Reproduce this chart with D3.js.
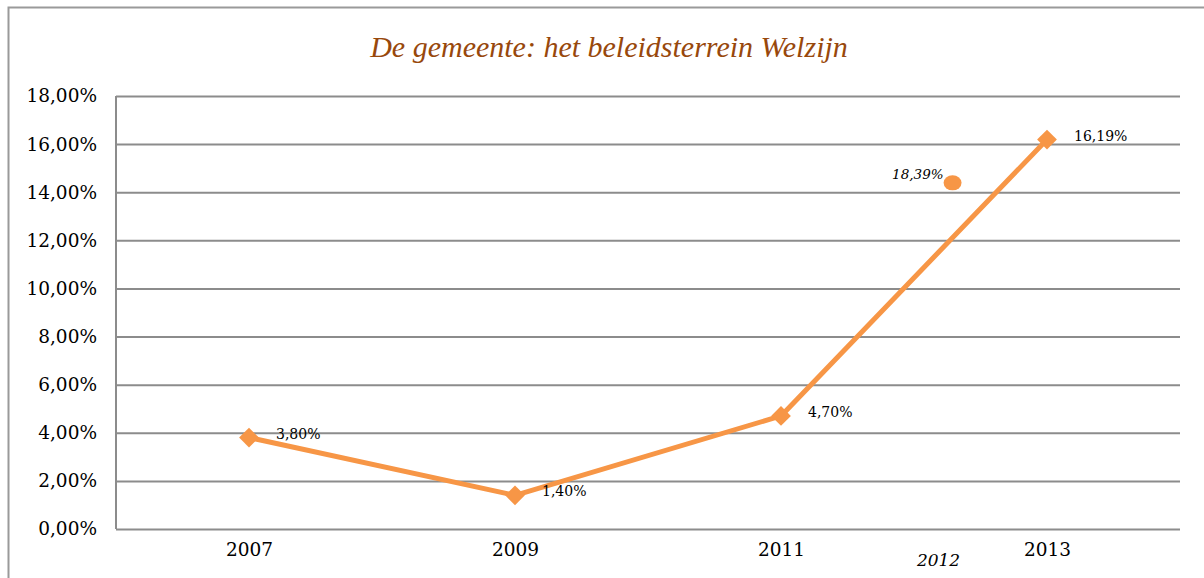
<!DOCTYPE html>
<html>
<head>
<meta charset="utf-8">
<script src="https://cdn.jsdelivr.net/npm/d3@7"></script>
<style>
  html, body { margin: 0; padding: 0; background: #fff; }
  svg { display: block; }
</style>
</head>
<body>
<svg id="chart" width="1204" height="578"></svg>
<script>
// ---- data ----
const title = "De gemeente: het beleidsterrein Welzijn";
const years = ["2007", "2009", "2011", "2013"];
const values = [3.80, 1.40, 4.70, 16.19];
const valueLabels = ["3,80%", "1,40%", "4,70%", "16,19%"];
const yTicks = [0, 2, 4, 6, 8, 10, 12, 14, 16, 18];
// extra annotated point (placed between 2011 and 2013)
const extraYear = "2012";
const extraPosition = 2.645;   // position on the category index axis
const extraValue = 14.39;
const extraLabel = "18,39%";

// ---- layout ----
const W = 1204, H = 578;
const plot = { left: 116, right: 1180, top: 96, bottom: 529 };
const orange = "#F79646";
const gridColor = "#8c8c8c";
const serif = "'DejaVu Serif', serif";

const svg = d3.select("#chart");

// outer border
svg.append("rect")
  .attr("x", 8.5).attr("y", 7.5)
  .attr("width", W + 20).attr("height", H + 20)
  .attr("fill", "none").attr("stroke", "#9a9a9a").attr("stroke-width", 2);

// title
svg.append("text")
  .attr("x", 609).attr("y", 57)
  .attr("text-anchor", "middle")
  .attr("font-family", "'Liberation Serif', serif")
  .attr("font-style", "italic")
  .attr("font-size", 30)
  .attr("fill", "#98480C")
  .text(title);

// scales
const x = d3.scalePoint().domain(years).range([plot.left, plot.right]).padding(0.5);
const xIdx = d3.scaleLinear().domain([0, years.length - 1]).range([x(years[0]), x(years[years.length - 1])]);
const y = d3.scaleLinear().domain([0, 18]).range([plot.bottom, plot.top]);

// gridlines
const yAxis = d3.axisLeft(y).tickValues(yTicks)
  .tickSize(-(plot.right - plot.left))
  .tickPadding(19)
  .tickFormat(d => d3.format(".2f")(d).replace(".", ",") + "%");
const gy = svg.append("g").attr("transform", `translate(${plot.left},0)`).call(yAxis);
gy.select(".domain").remove();
gy.selectAll(".tick line").attr("stroke", gridColor).attr("stroke-width", 2);
gy.selectAll(".tick text")
  .attr("font-family", serif).attr("font-size", 18.5).attr("fill", "#000");

// vertical axis line
svg.append("line")
  .attr("x1", plot.left).attr("x2", plot.left)
  .attr("y1", y(18)).attr("y2", y(0))
  .attr("stroke", gridColor).attr("stroke-width", 2);

// x axis labels
const xAxis = d3.axisBottom(x).tickSize(0).tickPadding(14);
const gx = svg.append("g").attr("transform", `translate(0,${plot.bottom})`).call(xAxis);
gx.select(".domain").remove();
gx.selectAll(".tick text")
  .attr("font-family", serif).attr("font-size", 18.5).attr("fill", "#000");

// line
const pts = years.map((yr, i) => ({ yr, v: values[i], lab: valueLabels[i] }));
svg.append("path")
  .datum(pts)
  .attr("fill", "none")
  .attr("stroke", orange)
  .attr("stroke-width", 5)
  .attr("stroke-linejoin", "round")
  .attr("d", d3.line().x(d => x(d.yr)).y(d => y(d.v)));

// diamond markers
svg.selectAll(".mk").data(pts).enter().append("rect")
  .attr("class", "mk")
  .attr("x", -7).attr("y", -7).attr("width", 14).attr("height", 14)
  .attr("fill", orange)
  .attr("transform", d => `translate(${x(d.yr)},${y(d.v)}) rotate(45)`);

// data labels
svg.selectAll(".lab").data(pts).enter().append("text")
  .attr("class", "lab")
  .attr("x", d => x(d.yr) + 27)
  .attr("y", d => y(d.v) + 1)
  .attr("font-family", serif).attr("font-size", 14).attr("fill", "#000")
  .text(d => d.lab);

// extra point
const ex = xIdx(extraPosition), ey = y(extraValue);
svg.append("ellipse")
  .attr("cx", ex).attr("cy", ey).attr("rx", 9).attr("ry", 7.5)
  .attr("fill", orange);
svg.append("text")
  .attr("x", ex - 9).attr("y", ey - 4)
  .attr("text-anchor", "end")
  .attr("font-family", serif).attr("font-style", "italic").attr("font-size", 13.5)
  .attr("fill", "#000")
  .text(extraLabel);
svg.append("text")
  .attr("x", ex - 14).attr("y", plot.bottom + 37)
  .attr("text-anchor", "middle")
  .attr("font-family", serif).attr("font-style", "italic")
  .attr("font-size", 17).attr("fill", "#000")
  .text(extraYear);
</script>
</body>
</html>
